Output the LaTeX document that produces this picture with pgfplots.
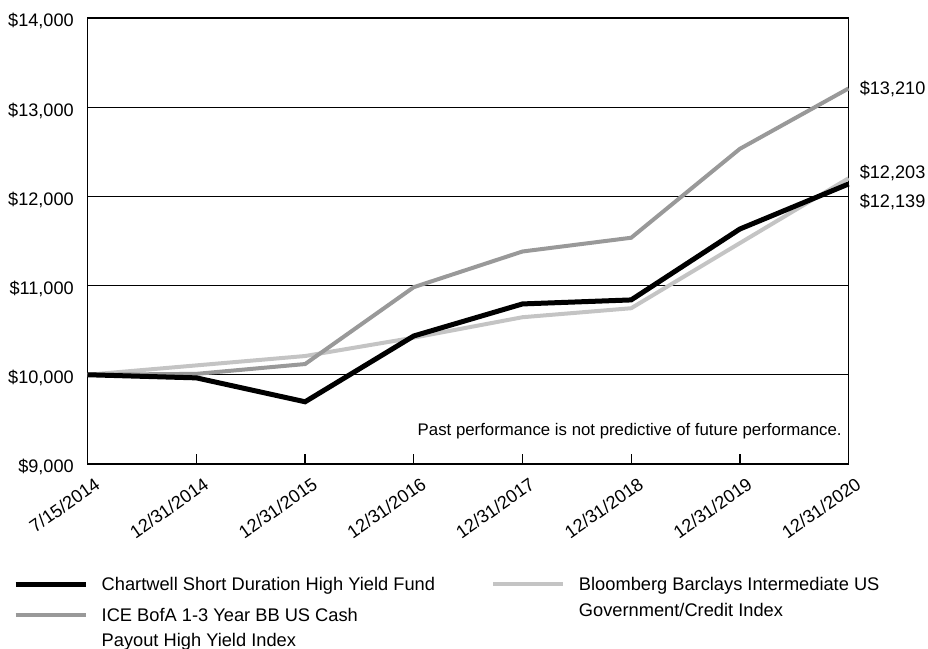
\documentclass[border=0pt]{standalone}
\usepackage{fontspec}
\setmainfont{Liberation Sans}
\usepackage{pgfplots}
\pgfplotsset{compat=1.18}
\definecolor{icegray}{HTML}{999999}
\definecolor{bbgray}{HTML}{C4C4C4}
\begin{document}
\begin{tikzpicture}
\begin{axis}[
  scale only axis, width=570.7pt, height=334.5pt,
  xmin=0, xmax=7, ymin=9000, ymax=14000,
  xtick={0,1,2,3,4,5,6,7},
  xticklabels={7/15/2014,12/31/2014,12/31/2015,12/31/2016,12/31/2017,12/31/2018,12/31/2019,12/31/2020},
  ytick={9000,10000,11000,12000,13000,14000},
  yticklabels={{\$9,000},{\$10,000},{\$11,000},{\$12,000},{\$13,000},{\$14,000}},
  scaled y ticks=false,
  ymajorgrids, grid style={black, line width=0.75pt},
  axis line style={black, line width=1pt},
  tick align=inside, xtick pos=bottom, ytick pos=left,
  major tick length=7.5pt,
  xtick style={black, line width=1pt},
  ytick style={draw=none},
  tick label style={font=\fontsize{13.6}{16}\selectfont},
  /pgf/number format/assume math mode=true,
  xticklabel style={inner sep=0pt, anchor=east, xshift=7.5pt, yshift=-13.5pt, rotate=35},
  yticklabel style={inner sep=0pt, anchor=base east, xshift=-10.3pt, yshift=-6.75pt},
  clip=false,
  legend columns=2,
  legend image code/.code={\draw[#1] (0pt,5pt) -- (52.5pt,5pt);},
  legend style={at={(0,0)}, anchor=north west, xshift=-56pt, yshift=-79.5pt,
    draw=none, fill=none, inner sep=0pt, outer sep=0pt, row sep=4.6pt, column sep=0pt,
    font=\fontsize{13.7}{19.5}\selectfont,
    cells={anchor=base west, inner sep=0pt},
    /tikz/every odd column/.append style={column sep=8.25pt},
    /tikz/every even column/.append style={column sep=10.25pt}},
]
\addplot[bbgray, line width=3pt, forget plot] coordinates {(0,10000)(1,10105)(2,10210)(3,10416)(4,10645)(5,10746)(6,11476)(7,12203)};
\addplot[icegray, line width=3pt, forget plot] coordinates {(0,10000)(1,10010)(2,10120)(3,10982)(4,11382)(5,11536)(6,12533)(7,13210)};
\addplot[black, line width=3.75pt, forget plot] coordinates {(0,10000)(1,9965)(2,9697)(3,10435)(4,10794)(5,10839)(6,11634)(7,12139)};

\addlegendimage{black, line width=3.75pt}
\addlegendentry{\parbox[t]{280pt}{\strut Chartwell Short Duration High Yield Fund\strut}}
\addlegendimage{bbgray, line width=3pt}
\addlegendentry{\raisebox{0pt}[\height][0pt]{\parbox[t]{300pt}{\strut Bloomberg Barclays Intermediate US\\Government/Credit Index\strut}}}
\addlegendimage{icegray, line width=3pt}
\addlegendentry{\parbox[t]{280pt}{\fontsize{13.7}{18.75}\selectfont\strut ICE BofA 1-3 Year BB US Cash\\Payout High Yield Index\strut}}

\node[anchor=west, inner sep=0pt, font=\fontsize{13.6}{16}\selectfont] at (axis cs:7,13210) [xshift=8.25pt] {\$13,210};
\node[anchor=west, inner sep=0pt, font=\fontsize{13.6}{16}\selectfont] at (axis cs:7,12203) [xshift=8.25pt, yshift=3.9pt] {\$12,203};
\node[anchor=west, inner sep=0pt, font=\fontsize{13.6}{16}\selectfont] at (axis cs:7,12139) [xshift=8.25pt, yshift=-13.3pt] {\$12,139};
\node[anchor=base east, inner sep=0pt, font=\fontsize{12.6}{15}\selectfont] at (rel axis cs:1,0) [xshift=-5pt, yshift=21pt] {Past performance is not predictive of future performance.};
\coordinate (sw) at (rel axis cs:0,0);
\coordinate (ne) at (rel axis cs:1,1);
\end{axis}
\pgfresetboundingbox
\path[use as bounding box] ([xshift=-65.8pt,yshift=-138.75pt]sw) rectangle ([xshift=59.6pt,yshift=13.5pt]ne);
\end{tikzpicture}
\end{document}
